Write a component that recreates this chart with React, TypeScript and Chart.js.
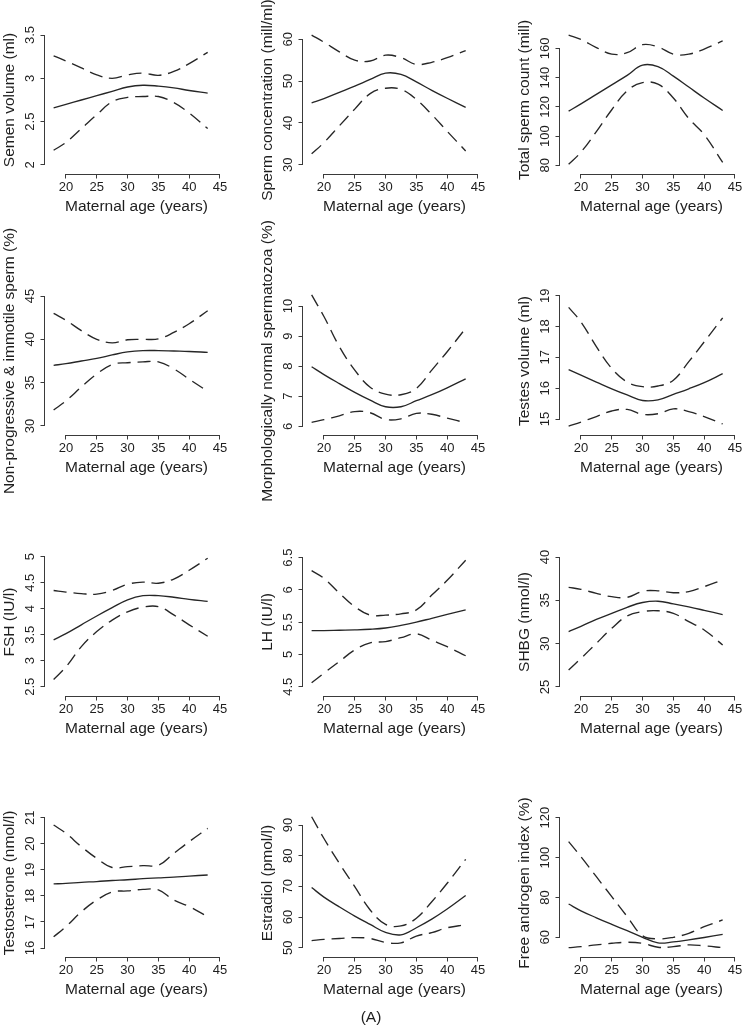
import React, { useEffect, useRef } from "react";
import { Chart, registerables } from "chart.js";

Chart.register(...registerables);

// ---------- data ----------
const AGES = [18, 20, 22.5, 25, 27.5, 30, 32.5, 35, 37.5, 40, 43];
const X_TICKS = [20, 25, 30, 35, 40, 45];
const X_TITLE = "Maternal age (years)";

const semenMean = [2.66, 2.7, 2.75, 2.8, 2.85, 2.9, 2.92, 2.91, 2.89, 2.86, 2.83];
const semenUpper = [3.26, 3.2, 3.12, 3.04, 3.0, 3.04, 3.06, 3.035, 3.08, 3.17, 3.3];
const semenLower = [2.17, 2.26, 2.42, 2.58, 2.73, 2.78, 2.79, 2.79, 2.72, 2.6, 2.42];
const semenTicks = [2, 2.5, 3, 3.5];

const concMean = [44.8, 45.8, 47.3, 48.8, 50.4, 51.9, 51.6, 49.8, 47.8, 45.9, 43.7];
const concUpper = [61.0, 59.3, 57.0, 55.0, 54.8, 56.2, 55.6, 54.0, 54.5, 55.6, 57.3];
const concLower = [32.6, 35.3, 39.3, 43.3, 47.0, 48.3, 48.0, 45.6, 42.0, 38.0, 33.3];
const concTicks = [30, 40, 50, 60];

const countMean = [117, 122, 128.5, 135, 141.5, 148.5, 147.5, 141, 133.5, 126, 117.5];
const countUpper = [169, 166, 160.5, 156, 157, 162.5, 161, 156, 156, 159.5, 165];
const countLower = [80.7, 89, 103, 118, 131, 136.5, 135.5, 126, 112, 101, 82];
const countTicks = [80, 100, 120, 140, 160];

const motMean = [37.0, 37.2, 37.5, 37.8, 38.2, 38.55, 38.7, 38.7, 38.65, 38.6, 38.5];
const motUpper = [43.0, 42.2, 41.0, 40.0, 39.6, 39.95, 40.0, 40.05, 40.8, 41.8, 43.3];
const motLower = [31.85, 32.9, 34.5, 36.0, 37.1, 37.3, 37.4, 37.4, 36.6, 35.4, 34.0];
const motTicks = [30, 35, 40, 45];

const morphMean = [7.98, 7.72, 7.42, 7.13, 6.87, 6.65, 6.65, 6.85, 7.05, 7.28, 7.58];
const morphUpper = [10.37, 9.65, 8.65, 7.87, 7.3, 7.07, 7.05, 7.26, 7.87, 8.48, 9.26];
const morphLower = [6.13, 6.22, 6.35, 6.49, 6.45, 6.23, 6.25, 6.43, 6.4, 6.27, 6.12];
const morphTicks = [6, 7, 8, 9, 10];

const testesMean = [16.6, 16.42, 16.2, 15.98, 15.78, 15.6, 15.62, 15.8, 15.98, 16.18, 16.47];
const testesUpper = [18.62, 18.15, 17.35, 16.64, 16.2, 16.05, 16.07, 16.26, 16.86, 17.5, 18.28];
const testesLower = [14.77, 14.9, 15.08, 15.26, 15.31, 15.15, 15.17, 15.33, 15.24, 15.08, 14.84];
const testesTicks = [15, 16, 17, 18, 19];

const fshMean = [3.4, 3.52, 3.69, 3.86, 4.02, 4.17, 4.25, 4.25, 4.22, 4.18, 4.14];
const fshUpper = [4.35, 4.32, 4.29, 4.28, 4.35, 4.47, 4.51, 4.49, 4.57, 4.74, 4.97];
const fshLower = [2.64, 2.88, 3.27, 3.56, 3.78, 3.94, 4.03, 4.04, 3.88, 3.69, 3.47];
const fshTicks = [2.5, 3, 3.5, 4, 4.5, 5];

const lhMean = [5.37, 5.37, 5.375, 5.38, 5.39, 5.41, 5.45, 5.5, 5.56, 5.62, 5.69];
const lhUpper = [6.3, 6.18, 5.95, 5.74, 5.61, 5.61, 5.63, 5.69, 5.92, 6.15, 6.46];
const lhLower = [4.56, 4.71, 4.89, 5.07, 5.18, 5.2, 5.26, 5.32, 5.22, 5.12, 4.98];
const lhTicks = [4.5, 5, 5.5, 6, 6.5];

const shbgMean = [31.4, 32.0, 32.8, 33.5, 34.2, 34.75, 34.9, 34.6, 34.25, 33.85, 33.35];
const shbgUpper = [36.5, 36.27, 35.8, 35.42, 35.35, 36.04, 36.1, 35.88, 36.0, 36.58, 37.35];
const shbgLower = [26.96, 28.3, 30.04, 31.77, 33.2, 33.7, 33.8, 33.5, 32.54, 31.58, 29.85];
const shbgTicks = [25, 30, 35, 40];

const testoMean = [18.46, 18.48, 18.52, 18.55, 18.59, 18.62, 18.66, 18.69, 18.72, 18.76, 18.8];
const testoUpper = [20.72, 20.4, 19.89, 19.44, 19.09, 19.12, 19.16, 19.18, 19.63, 20.08, 20.59];
const testoLower = [16.43, 16.82, 17.39, 17.84, 18.15, 18.19, 18.25, 18.23, 17.84, 17.59, 17.2];
const testoTicks = [16, 17, 18, 19, 20, 21];

const estrMean = [69.6, 66.5, 63.3, 60.3, 57.6, 55.0, 54.2, 56.5, 59.3, 62.6, 67.0];
const estrUpper = [92.7, 85.6, 77.5, 69.9, 62.3, 57.6, 57.1, 59.6, 65.0, 71.0, 78.8];
const estrLower = [52.3, 52.7, 53.0, 53.3, 53.0, 51.7, 51.6, 53.8, 54.9, 56.5, 57.5];
const estrTicks = [50, 60, 70, 80, 90];

const faiMean = [76.7, 73.3, 69.8, 66.5, 63.3, 60.0, 57.2, 57.7, 58.7, 59.9, 61.5];
const faiUpper = [108, 100.4, 90.4, 80.4, 70.4, 60.8, 59.2, 60.0, 62.0, 65.3, 68.7];
const faiLower = [54.8, 55.3, 56.2, 57.0, 57.5, 57.0, 55.0, 55.3, 56.2, 55.7, 54.8];
const faiTicks = [60, 80, 100, 120];

type PanelDef = {
  title: string;
  mean: number[];
  upper: number[];
  lower: number[];
  yTicks: number[];
  yMin: number;
  yMax: number;
};

const PANELS: PanelDef[] = [
  { title: "Semen volume (ml)", mean: semenMean, upper: semenUpper, lower: semenLower, yTicks: semenTicks, yMin: 1.896, yMax: 3.604 },
  { title: "Sperm concentration (mill/ml)", mean: concMean, upper: concUpper, lower: concLower, yTicks: concTicks, yMin: 27.78, yMax: 63.18 },
  { title: "Total sperm count (mill)", mean: countMean, upper: countUpper, lower: countLower, yTicks: countTicks, yMin: 74.05, yMax: 175.25 },
  { title: "Non-progressive & immotile sperm (%)", mean: motMean, upper: motUpper, lower: motLower, yTicks: motTicks, yMin: 28.96, yMax: 46.04 },
  { title: "Morphologically normal spermatozoa (%)", mean: morphMean, upper: morphUpper, lower: morphLower, yTicks: morphTicks, yMin: 5.711, yMax: 10.632 },
  { title: "Testes volume (ml)", mean: testesMean, upper: testesUpper, lower: testesLower, yTicks: testesTicks, yMin: 14.481, yMax: 19.282 },
  { title: "FSH (IU/l)", mean: fshMean, upper: fshUpper, lower: fshLower, yTicks: fshTicks, yMin: 2.321, yMax: 5.167 },
  { title: "LH (IU/l)", mean: lhMean, upper: lhUpper, lower: lhLower, yTicks: lhTicks, yMin: 4.356, yMax: 6.65 },
  { title: "SHBG (nmol/l)", mean: shbgMean, upper: shbgUpper, lower: shbgLower, yTicks: shbgTicks, yMin: 23.96, yMax: 41.04 },
  { title: "Testosterone (nmol/l)", mean: testoMean, upper: testoUpper, lower: testoLower, yTicks: testoTicks, yMin: 15.655, yMax: 21.334 },
  { title: "Estradiol (pmol/l)", mean: estrMean, upper: estrUpper, lower: estrLower, yTicks: estrTicks, yMin: 46.97, yMax: 95.22 },
  { title: "Free androgen index (%)", mean: faiMean, upper: faiUpper, lower: faiLower, yTicks: faiTicks, yMin: 50.12, yMax: 124.36 },
];

// ---------- style ----------
const FONT = '"Liberation Sans", Arial, Helvetica, sans-serif';
const TEXT = "#1e1e1e";
const AXIS = "#3a3a3a";
const LINE = "#262626";
const TICK_SIZE = 13;
const TITLE_SIZE = 15.5;
const COL_W = 257.7;
const ROW_H = 261;
const CANVAS_W = 250;
const CANVAS_H = 300;
const TOP_EXTRA = 40;

const axisLinePlugin = {
  id: "rAxisLines",
  afterDraw(chart: any) {
    const { ctx } = chart;
    const xs = chart.scales.x;
    const ys = chart.scales.y;
    const yt: number[] = chart.options.plugins.rAxisLines.yTicks;
    ctx.save();
    ctx.strokeStyle = AXIS;
    ctx.lineWidth = 1;
    ctx.beginPath();
    const xy = Math.round(xs.top) + 0.5;
    ctx.moveTo(xs.getPixelForValue(X_TICKS[0]), xy);
    ctx.lineTo(xs.getPixelForValue(X_TICKS[X_TICKS.length - 1]), xy);
    const yx = Math.round(ys.right) - 0.5;
    ctx.moveTo(yx, ys.getPixelForValue(yt[0]));
    ctx.lineTo(yx, ys.getPixelForValue(yt[yt.length - 1]));
    ctx.stroke();
    ctx.restore();
  },
};

function Panel({ p, col, row }: { p: PanelDef; col: number; row: number }) {
  const ref = useRef<HTMLCanvasElement>(null);
  useEffect(() => {
    const canvas = ref.current!;
    const mctx = canvas.getContext("2d")!;
    mctx.font = `${TICK_SIZE}px ${FONT}`;
    const widest = Math.max(...p.yTicks.map((v) => mctx.measureText(String(v)).width));
    const yPad = 10.2 - widest / 2;

    const mk = (vals: number[]) => AGES.map((x, i) => ({ x, y: vals[i] }));
    const chart = new Chart(canvas, {
      type: "line",
      data: {
        datasets: [
          { data: mk(p.upper), borderDash: [13, 7] },
          { data: mk(p.mean) },
          { data: mk(p.lower), borderDash: [13, 7] },
        ],
      },
      options: {
        animation: false,
        responsive: true,
        maintainAspectRatio: false,
        devicePixelRatio: 1,
        layout: { padding: { top: 26 + TOP_EXTRA, right: 22, bottom: CANVAS_H - TOP_EXTRA - 174 - 42, left: 0 } },
        elements: {
          point: { radius: 0 },
          line: { borderWidth: 1.35, borderColor: LINE, tension: 0.4, fill: false },
        },
        plugins: {
          legend: { display: false },
          tooltip: { enabled: false },
          rAxisLines: { yTicks: p.yTicks },
        } as any,
        scales: {
          x: {
            type: "linear",
            min: 16.6,
            max: 46.3,
            border: { display: false },
            grid: { drawOnChartArea: false, drawTicks: true, tickLength: 4.5, color: AXIS, lineWidth: 1 },
            afterBuildTicks: (s: any) => {
              s.ticks = X_TICKS.map((v) => ({ value: v }));
            },
            afterFit: (s: any) => {
              s.height = 42;
            },
            ticks: {
              autoSkip: false,
              maxRotation: 0,
              minRotation: 0,
              padding: 1.5,
              color: TEXT,
              font: { family: FONT, size: TICK_SIZE },
              callback: (v: any) => String(v),
            },
            title: { display: true, text: X_TITLE, color: TEXT, font: { family: FONT, size: TITLE_SIZE }, padding: 0 },
          },
          y: {
            type: "linear",
            min: p.yMin,
            max: p.yMax,
            border: { display: false },
            grid: { drawOnChartArea: false, drawTicks: true, tickLength: 4.5, color: AXIS, lineWidth: 1 },
            afterBuildTicks: (s: any) => {
              s.ticks = p.yTicks.map((v) => ({ value: v }));
            },
            afterFit: (s: any) => {
              s.width = 45;
            },
            ticks: {
              autoSkip: false,
              minRotation: 90,
              maxRotation: 90,
              crossAlign: "center",
              padding: yPad,
              color: TEXT,
              font: { family: FONT, size: TICK_SIZE },
              callback: (v: any) => String(v),
            },
            title: { display: true, text: p.title, color: TEXT, font: { family: FONT, size: TITLE_SIZE }, padding: 0 },
          },
        },
      } as any,
      plugins: [axisLinePlugin],
    });
    return () => chart.destroy();
  }, [p]);

  return (
    <div
      style={{
        position: "absolute",
        left: col * COL_W,
        top: row * ROW_H - TOP_EXTRA,
        width: CANVAS_W,
        height: CANVAS_H,
      }}
    >
      <canvas ref={ref} />
    </div>
  );
}

export default function App() {
  return (
    <div
      style={{
        position: "absolute",
        left: 0,
        top: 0,
        width: 743,
        height: 1032,
        overflow: "hidden",
        background: "#ffffff",
      }}
    >
      {PANELS.map((p, i) => (
        <Panel key={i} p={p} col={i % 3} row={Math.floor(i / 3)} />
      ))}
      <div
        style={{
          position: "absolute",
          left: 359,
          width: 24,
          top: 1007,
          textAlign: "center",
          fontFamily: FONT,
          fontSize: TITLE_SIZE,
          color: TEXT,
          lineHeight: "20px",
        }}
      >
        (A)
      </div>
    </div>
  );
}
